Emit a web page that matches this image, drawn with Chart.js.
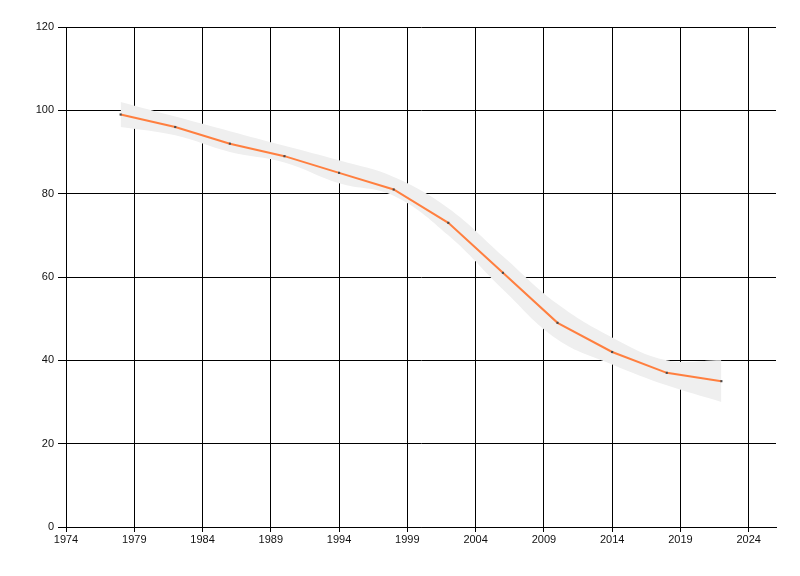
<!DOCTYPE html>
<html>
<head>
<meta charset="utf-8">
<script src="https://cdn.jsdelivr.net/npm/chart.js@4"></script>
<style>
    html, body { margin: 0; padding: 0; background: #fff; }
    #wrap { width: 800px; height: 576px; }
</style>
</head>
<body>
<div id="wrap"><canvas id="chart" width="800" height="576"></canvas></div>
<script>
// values
const years = [ 1978, 1982, 1986, 1990, 1994, 1998, 2002, 2006, 2010, 2014, 2018, 2022 ];
const values = [ 99, 96, 92, 89, 85, 81, 73, 61, 49, 42, 37, 35 ];
const upper = [ 102, 98.5, 95, 91.5, 88, 84, 76.5, 65, 53.5, 45.5, 40, 40 ];
const lower = [ 96, 94, 90, 87.5, 82.5, 79.5, 70, 57, 45, 39, 34, 30 ];
const xTicks = [ 1974, 1979, 1984, 1989, 1994, 1999, 2004, 2009, 2014, 2019, 2024 ];
const yTicks = [ 0, 20, 40, 60, 80, 100, 120 ];

const pts = ( arr ) => years.map( ( y, i ) => ( { x: y, y: arr[ i ] } ) );

Chart.defaults.font.family = '"Liberation Sans", Arial, sans-serif';
Chart.defaults.font.size = 11;
Chart.defaults.color = '#111';

new Chart( document.getElementById( 'chart' ), {
    type: 'line',
    data: {
        datasets: [ {
            data: pts( values ),
            borderColor: '#ff7f3f',
            borderWidth: 2,
            tension: 0,
            pointStyle: 'rect',
            pointRadius: 1.5,
            pointBorderWidth: 0,
            pointBackgroundColor: '#4a4a4a',
            fill: false
        }, {
            data: pts( upper ),
            borderWidth: 0,
            pointRadius: 0,
            tension: 0.4,
            backgroundColor: '#efefef',
            fill: '+1'
        }, {
            data: pts( lower ),
            borderWidth: 0,
            pointRadius: 0,
            tension: 0.4,
            fill: false
        } ]
    },
    options: {
        responsive: false,
        animation: false,
        devicePixelRatio: 1,
        layout: { padding: { top: 27, right: 24, left: 0, bottom: 0 } },
        plugins: {
            legend: { display: false },
            tooltip: { enabled: false }
        },
        scales: {
            x: {
                type: 'linear',
                min: 1974,
                max: 2026,
                afterBuildTicks ( axis ) {
                    axis.ticks = xTicks.map( v => ( { value: v } ) );
                },
                afterFit ( axis ) { axis.height = 49; },
                ticks: {
                    autoSkip: false,
                    maxRotation: 0,
                    padding: 1,
                    callback: v => String( v )
                },
                grid: { color: '#000', lineWidth: 1, tickLength: 5 },
                border: { color: '#000', width: 1 }
            },
            y: {
                min: 0,
                max: 120,
                afterBuildTicks ( axis ) {
                    axis.ticks = yTicks.map( v => ( { value: v } ) );
                },
                afterFit ( axis ) { axis.width = 66; },
                ticks: { padding: 4 },
                grid: { color: '#000', lineWidth: 1, tickLength: 8 },
                border: { color: '#000', width: 1 }
            }
        }
    }
} );
</script>
</body>
</html>
